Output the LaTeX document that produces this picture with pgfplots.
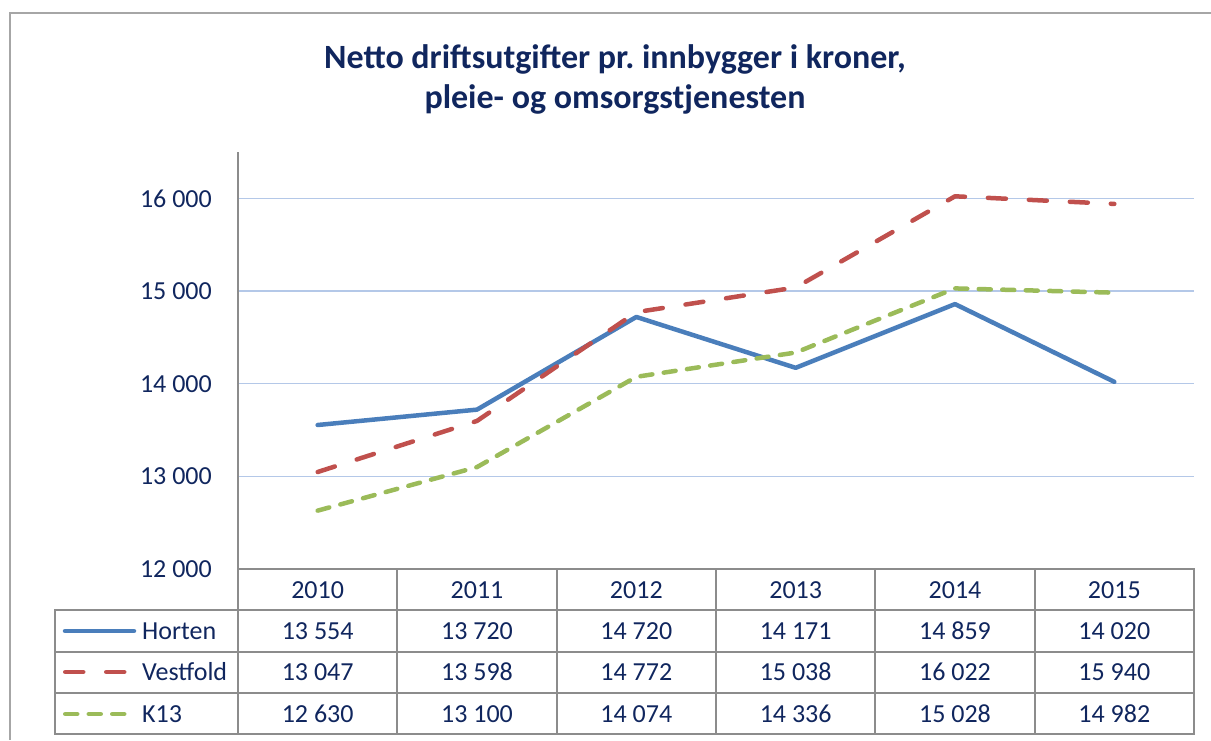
\documentclass[border=0pt]{standalone}
\usepackage{fontspec}
\setmainfont{Carlito}
\usepackage{pgfplots}
\pgfplotsset{compat=1.18}
\definecolor{navy}{HTML}{10265E}
\definecolor{hblue}{HTML}{4A7EBB}
\definecolor{vred}{HTML}{C0504D}
\definecolor{kgreen}{HTML}{9BBB59}
\definecolor{gridc}{HTML}{B4C8E8}
\definecolor{axc}{HTML}{8C8C8C}
\definecolor{framec}{HTML}{A6A6A6}
\frenchspacing
\begin{document}
\begin{tikzpicture}
\begin{scope}[x=1pt,y=-1pt]
\draw[framec, line width=2.5pt] (10,740) -- (10,13) -- (1211,13);
\node[anchor=base, text=navy, font=\fontsize{34}{40}\selectfont\bfseries, inner sep=0pt] at (615,68) {Netto driftsutgifter pr. innbygger i kroner,};
\node[anchor=base, text=navy, font=\fontsize{34}{40}\selectfont\bfseries, inner sep=0pt] at (615,108) {pleie- og omsorgstjenesten};
\end{scope}
\begin{axis}[
 at={(238pt,-569pt)}, anchor=south west,
 width=956pt, height=417pt, scale only axis,
 xmin=-0.5, xmax=5.5, ymin=12000, ymax=16500,
 axis x line*=bottom, axis y line*=left,
 axis line style={draw=axc, line width=2pt},
 xtick=\empty,
 scaled y ticks=false,
 ytick={12000,13000,14000,15000,16000},
 yticklabels={12 000,13 000,14 000,15 000,16 000},
 major tick length=0pt,
 yticklabel style={font=\fontsize{26}{31}\selectfont, text=navy, inner sep=0pt, xshift=-26pt},
 ymajorgrids, grid style={draw=gridc, line width=1.5pt},
 clip=false,
]
\addplot[hblue, line width=4.5pt, line cap=round, line join=round] coordinates {(0,13554)(1,13720)(2,14720)(3,14171)(4,14859)(5,14020)};
\addplot[vred, line width=4.5pt, line cap=round, line join=round, dash pattern=on 18pt off 23pt] coordinates {(0,13047)(1,13598)(2,14772)(3,15038)(4,16022)(5,15940)};
\addplot[kgreen, line width=4.5pt, line cap=round, line join=round, dash pattern=on 12pt off 11.5pt] coordinates {(0,12630)(1,13100)(2,14074)(3,14336)(4,15028)(5,14982)};
\end{axis}
\begin{scope}[x=1pt,y=-1pt]
\foreach \k in {0,...,6} \draw[axc, line width=2pt] ({238+\k*159.333},569) -- ({238+\k*159.333},735);
\foreach \yy in {610,652,693,734} \draw[axc, line width=2pt] (54,\yy) -- (1195,\yy);
\draw[axc, line width=2pt] (55,609) -- (55,735);
\draw[axc, line width=2pt] (237,569) -- (1195,569);
\foreach \yr [count=\i from 0] in {2010,2011,2012,2013,2014,2015}
  \node[text=navy, font=\fontsize{26}{31}\selectfont, inner sep=0pt] at ({317.67+\i*159.333},590) {\yr};
\foreach \v [count=\i from 0] in {13 554,13 720,14 720,14 171,14 859,14 020}
  \node[text=navy, font=\fontsize{26}{31}\selectfont, inner sep=0pt] at ({317.67+\i*159.333},631) {\v};
\foreach \v [count=\i from 0] in {13 047,13 598,14 772,15 038,16 022,15 940}
  \node[text=navy, font=\fontsize{26}{31}\selectfont, inner sep=0pt] at ({317.67+\i*159.333},672) {\v};
\foreach \v [count=\i from 0] in {12 630,13 100,14 074,14 336,15 028,14 982}
  \node[text=navy, font=\fontsize{26}{31}\selectfont, inner sep=0pt] at ({317.67+\i*159.333},714) {\v};
\draw[hblue, line width=4.5pt, line cap=round] (65,631) -- (134,631);
\draw[vred, line width=4.5pt, line cap=round, dash pattern=on 18pt off 23pt] (65.25,672) -- (128,672);
\draw[kgreen, line width=4.5pt, line cap=round, dash pattern=on 12pt off 11.5pt] (65.25,714) -- (126,714);
\node[anchor=west, text=navy, font=\fontsize{26}{31}\selectfont, inner sep=0pt] at (142,631) {Horten};
\node[anchor=west, text=navy, font=\fontsize{26}{31}\selectfont, inner sep=0pt] at (142,672) {Vestfold};
\node[anchor=west, text=navy, font=\fontsize{26}{31}\selectfont, inner sep=0pt] at (142,714) {K13};
\pgfresetboundingbox
\path (0,0) rectangle (1211,740);
\end{scope}
\end{tikzpicture}
\end{document}
